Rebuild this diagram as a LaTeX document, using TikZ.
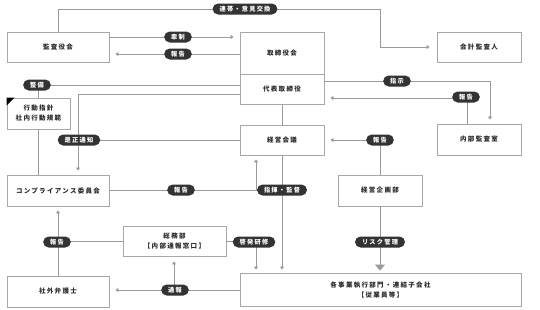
\documentclass[tikz,border=0pt]{standalone}
\usepackage{fontspec}
\newfontfamily\jp[LetterSpace=20]{Noto Sans CJK JP}
\usetikzlibrary{arrows.meta}
\definecolor{ln}{HTML}{9A9A9A}
\definecolor{bx}{HTML}{A8A8A8}
\definecolor{pl}{HTML}{333333}
\definecolor{tx}{HTML}{2A2A2A}
\begin{document}
\begin{tikzpicture}[x=1pt,y=-1pt,
  box/.style={draw=bx,line width=0.9pt,fill=white,minimum width=#1,inner sep=0pt,align=center,text=tx,font=\jp\bfseries\fontsize{6.5}{10}\selectfont},
  box/.default=84pt,
  pill/.style={fill=pl,text=white,rounded corners=5.5pt,minimum height=11pt,inner xsep=7pt,inner ysep=0pt,font=\jp\bfseries\fontsize{6.2}{7}\selectfont},
  conn/.style={draw=ln,line width=0.9pt},
  arr/.style={conn,-{Triangle[width=4pt,length=3pt]},shorten >=#1},
  arr/.default=6pt,
  bigarr/.style={conn,-{Triangle[width=10pt,length=6pt]},shorten >=2pt}
]
\useasboundingbox (0,0) rectangle (540,309);
% boxes
\node[box=102pt,minimum height=30pt] (kansa) at (58,47) {監査役会};
\node[box,minimum height=42pt] (tori) at (282,53) {取締役会};
\node[box,minimum height=30pt] (daihyo) at (282,89) {代表取締役};
\node[box,minimum height=30pt] (kaikei) at (479,47) {会計監査人};
\node[box,minimum height=31pt] (naibu) at (479,139.5) {内部監査室};
\node[box,minimum height=30pt] (keiei) at (282,140) {経営会議};
\node[box=63pt,minimum height=31pt] (kodo) at (38.5,113.5) {行動指針\\社内行動規範};
\fill[black] (kodo.north west) -- ++(8,0) -- ++(-8,8) -- cycle;
\node[box=102pt,minimum height=31pt] (comp) at (58,190.5) {コンプライアンス委員会};
\node[box,minimum height=31pt] (kikaku) at (380,190.5) {経営企画部};
\node[box=103pt,minimum height=30pt] (somu) at (174.5,241) {総務部\\【内部通報窓口】};
\node[box=102pt,minimum height=31pt] (bengo) at (58,291.5) {社外弁護士};
\node[box=281pt,minimum height=33pt] (jigyo) at (380.5,289.5) {各事業執行部門・連結子会社\\【従業員等】};
% helper coordinates
\coordinate (top) at (380,9);
\coordinate (z) at (78,94);
\coordinate (a256) at (256,0);
\coordinate (sj) at (490,81);
\coordinate (hk) at (467,98);
\coordinate (tu) at (174,290);
% connectors
\draw[arr=7pt] (kansa.north) |- (top) |- (kaikei.west);
\draw[arr] (kansa.east |- 0,37) -- (tori.west |- 0,37);
\draw[arr] (tori.west |- 0,54) -- (kansa.east |- 0,54);
\draw[conn] (daihyo.west |- 0,85) -| (kodo.north);
\draw[conn] (kodo.south) -- (kodo.south |- comp.north);
\draw[arr=4pt] (daihyo.west |- z) -- (z) -- (z |- comp.north);
\draw[conn] (keiei.west) -- (keiei.west -| z);
\draw[arr=4pt] (comp.east |- 0,190) -| (keiei.south -| a256);
\draw[conn] (daihyo.south) -- (keiei.north);
\draw[arr=3pt] (keiei.south) -- (jigyo.north -| keiei.south);
\draw[arr=4pt] (daihyo.east |- sj) -| (naibu.north -| sj);
\draw[arr] (naibu.north -| hk) |- (daihyo.east |- hk);
\draw[arr] (kikaku.north) |- (keiei.east);
\draw[bigarr] (kikaku.south) -- (jigyo.north -| kikaku.south);
\draw[arr=4pt] (bengo.north) -- (comp.south);
\draw[conn] (somu.west) -- (somu.west -| bengo.north);
\draw[arr=3pt] (somu.east) -| (jigyo.north -| a256);
\draw[arr] (jigyo.west |- tu) -- (bengo.east |- tu);
\draw[arr=5pt] (tu) -- (somu.south -| tu);
% labels
\node[pill] (l1) at (245,9) {連帯・意見交換};
\node[pill] (l2) at (178,37) {牽制};
\node[pill] (l3) at (178,54) {報告};
\node[pill] (l4) at (37,85) {整備};
\node[pill] (l5) at (79,140) {是正通知};
\node[pill] (l6) at (181,190) {報告};
\node[pill] (l7) at (282,190) {指揮・監督};
\node[pill] (l8) at (397,81) {指示};
\node[pill] (l9) at (466,97) {報告};
\node[pill] (l10) at (380,140) {報告};
\node[pill] (l11) at (380,242) {リスク管理};
\node[pill] (l12) at (57,242) {報告};
\node[pill] (l13) at (254,242) {啓発研修};
\node[pill] (l14) at (175,290) {通報};
\end{tikzpicture}
\end{document}
